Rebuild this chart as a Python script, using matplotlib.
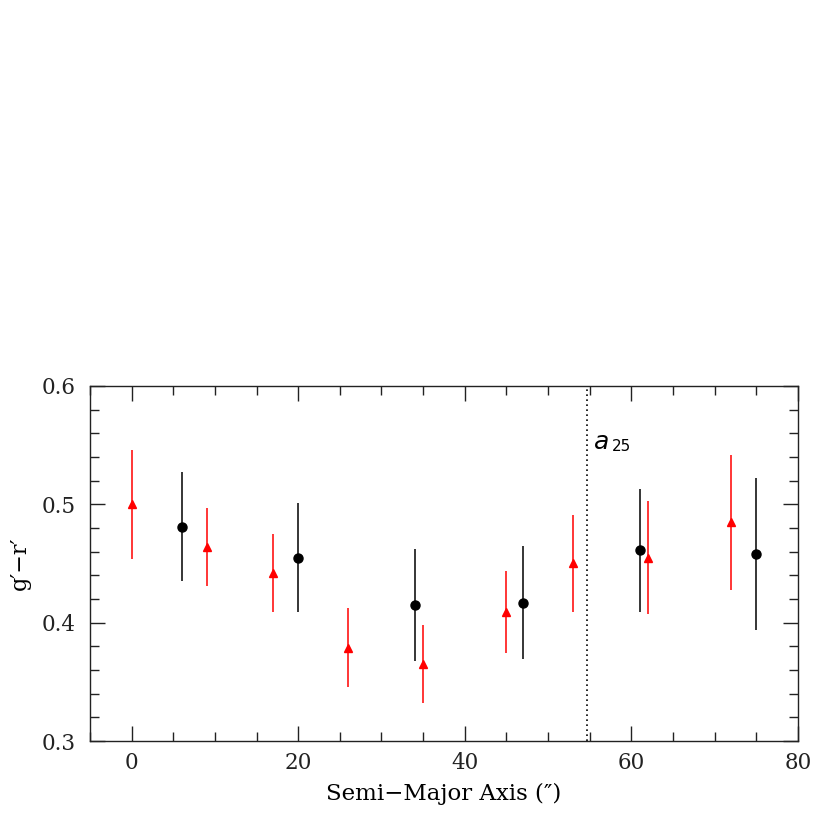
import matplotlib
matplotlib.use("Agg")
import matplotlib.pyplot as plt
from matplotlib.ticker import MultipleLocator

# Red triangles
red_x = [0, 9, 17, 26, 35, 45, 53, 62, 72]
red_y = [0.500, 0.464, 0.442, 0.379, 0.365, 0.409, 0.450, 0.455, 0.485]
red_err = [0.046, 0.033, 0.033, 0.033, 0.033, 0.035, 0.041, 0.048, 0.057]

# Black circles
blk_x = [6, 20, 34, 47, 61, 75]
blk_y = [0.481, 0.455, 0.415, 0.417, 0.461, 0.458]
blk_err = [0.046, 0.046, 0.047, 0.048, 0.052, 0.064]

a25 = 54.7

plt.rcParams['font.family'] = ['DejaVu Serif']
fig = plt.figure(figsize=(8.3, 8.3), dpi=100)
ax = fig.add_axes([0.1084, 0.1072, 0.853, 0.4278])

ax.errorbar(red_x, red_y, yerr=red_err, fmt='^', color='red', ecolor='red',
            markersize=5.5, elinewidth=1.1, capsize=0, zorder=3)
ax.errorbar(blk_x, blk_y, yerr=blk_err, fmt='o', color='black', ecolor='black',
            markersize=6.5, elinewidth=1.1, capsize=0, zorder=3)

ax.axvline(a25, color='black', linestyle=(0, (1.0, 2.0)), linewidth=1.2)
ax.text(a25 + 0.8, 0.553, 'a', fontsize=18, family='DejaVu Sans', style='italic', va='center')
ax.text(a25 + 2.9, 0.5485, '25', fontsize=11, family='DejaVu Sans', va='center')

ax.set_xlim(-5, 80)
ax.set_ylim(0.3, 0.6)
ax.xaxis.set_major_locator(MultipleLocator(20))
ax.xaxis.set_minor_locator(MultipleLocator(5))
ax.yaxis.set_major_locator(MultipleLocator(0.1))
ax.yaxis.set_minor_locator(MultipleLocator(0.02))
ax.tick_params(which='both', direction='in', top=True, right=True, labelsize=15.5, colors='#222222')
ax.tick_params(which='major', length=11, width=1)
ax.tick_params(which='minor', length=6.5, width=1)
ax.tick_params(axis='y', pad=10)
ax.tick_params(axis='x', pad=8)
for s in ax.spines.values():
    s.set_linewidth(1)
    s.set_color('#222222')

ax.set_xlabel('Semi\u2212Major Axis (\u2033)', fontsize=16.5, labelpad=6)
ax.set_ylabel('g\u2032\u2212r\u2032', fontsize=16, labelpad=8)

fig.savefig('out.png', dpi=100)
